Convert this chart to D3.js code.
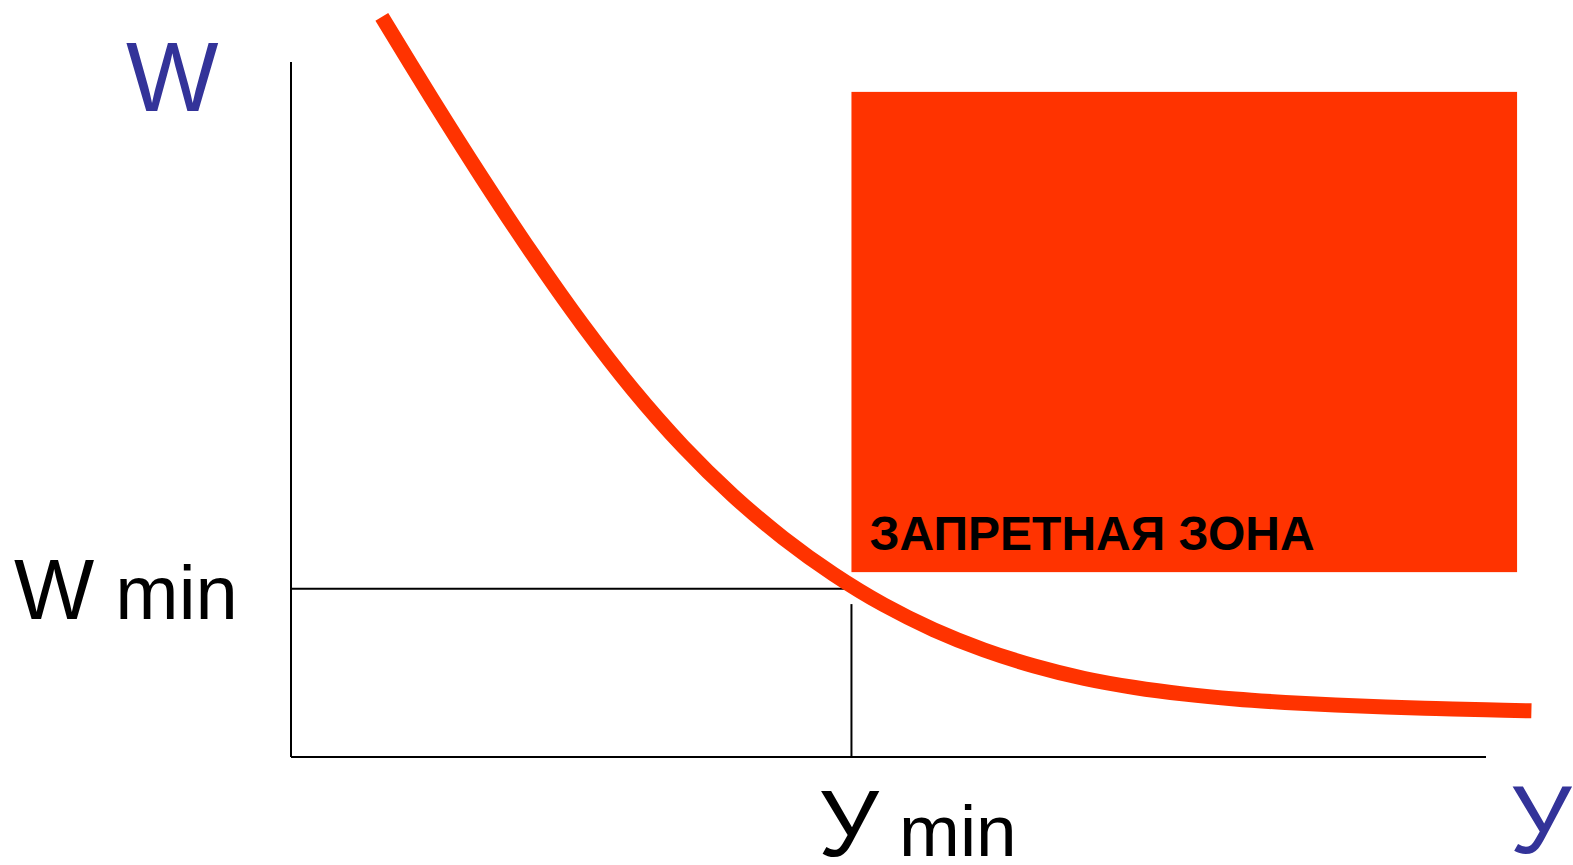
<!DOCTYPE html>
<html>
<head>
<meta charset="utf-8">
<script src="https://cdn.jsdelivr.net/npm/d3@7"></script>
<style>
  body { margin: 0; background: #fff; }
  text { font-family: "Liberation Sans", Arial, sans-serif; }
</style>
</head>
<body>
<div class="canvas"></div>
<script>
var width = 1573,
    height = 865;

// curve points, in chart units (axis runs 0..100 both ways)
var curveX = [7.6, 11.8, 16.0, 20.2, 24.4, 28.6, 32.8, 37.0, 41.2, 45.4, 49.6, 53.8,
              58.0, 62.2, 66.4, 70.6, 74.8, 79.0, 83.2, 87.4, 91.6, 95.8, 100.0, 103.8];
var curveY = [106.5, 94.7, 83.3, 72.4, 62.2, 52.9, 44.7, 37.6, 31.5, 26.3, 21.9, 18.3,
              15.4, 13.1, 11.3, 10.0, 9.05, 8.35, 7.85, 7.47, 7.19, 6.97, 6.79, 6.64];

var wMin = 24.2;
var yMin = 46.9;
var yMinLineTop = 22.0;

// forbidden zone: [x0, x1], [y0, y1]
var zoneX = [46.9, 102.6];
var zoneY = [26.6, 95.7];
var zoneLabel = "ЗАПРЕТНАЯ ЗОНА";

var svg = d3.select(".canvas").append("svg")
    .attr("width", width)
    .attr("height", height);

var x = d3.scaleLinear().domain([0, 100]).range([291, 1486]);
var y = d3.scaleLinear().domain([0, 100]).range([757, 62]);

// red zone
svg.append("rect")
    .attr("x", x(zoneX[0]))
    .attr("y", y(zoneY[1]))
    .attr("width", x(zoneX[1]) - x(zoneX[0]))
    .attr("height", y(zoneY[0]) - y(zoneY[1]))
    .style("fill", "#ff3300");

svg.append("text")
    .attr("x", x(zoneX[0]) + 18)
    .attr("y", y(zoneY[0]) - 22)
    .style("font-size", "48px")
    .style("font-weight", "bold")
    .style("fill", "#000")
    .text(zoneLabel);

// axes
svg.append("line")
    .attr("x1", x(0)).attr("y1", y(100))
    .attr("x2", x(0)).attr("y2", y(0))
    .style("stroke", "#000").style("stroke-width", 2);
svg.append("line")
    .attr("x1", x(0)).attr("y1", y(0))
    .attr("x2", x(100)).attr("y2", y(0))
    .style("stroke", "#000").style("stroke-width", 2);

// W min / Y min guide lines
svg.append("line")
    .attr("x1", x(0)).attr("y1", y(wMin))
    .attr("x2", x(yMin)).attr("y2", y(wMin))
    .style("stroke", "#000").style("stroke-width", 2);
svg.append("line")
    .attr("x1", x(yMin)).attr("y1", y(yMinLineTop))
    .attr("x2", x(yMin)).attr("y2", y(0))
    .style("stroke", "#000").style("stroke-width", 2);

// the curve
var line = d3.line()
    .x(function(d, i) { return x(curveX[i]); })
    .y(function(d) { return y(d); })
    .curve(d3.curveCatmullRom.alpha(0.5));

svg.append("path")
    .attr("d", line(curveY))
    .style("fill", "none")
    .style("stroke", "#ff3300")
    .style("stroke-width", 15);

// labels
svg.append("text")
    .attr("x", 126).attr("y", 111)
    .style("font-size", "98px")
    .style("fill", "#333399")
    .text("W");

svg.append("text")
    .attr("x", 1510).attr("y", 853)
    .style("font-size", "97px")
    .style("fill", "#333399")
    .text("У");

var wLabel = svg.append("text")
    .attr("x", 14).attr("y", y(wMin) + 30)
    .style("fill", "#000");
wLabel.append("tspan").style("font-size", "85px").text("W");
wLabel.append("tspan").style("font-size", "76px").text(" min");

var yLabel = svg.append("text")
    .attr("x", x(yMin) - 33).attr("y", 856)
    .style("fill", "#000");
yLabel.append("tspan").style("font-size", "95px").text("У");
yLabel.append("tspan").style("font-size", "73px").text(" min");
</script>
</body>
</html>
